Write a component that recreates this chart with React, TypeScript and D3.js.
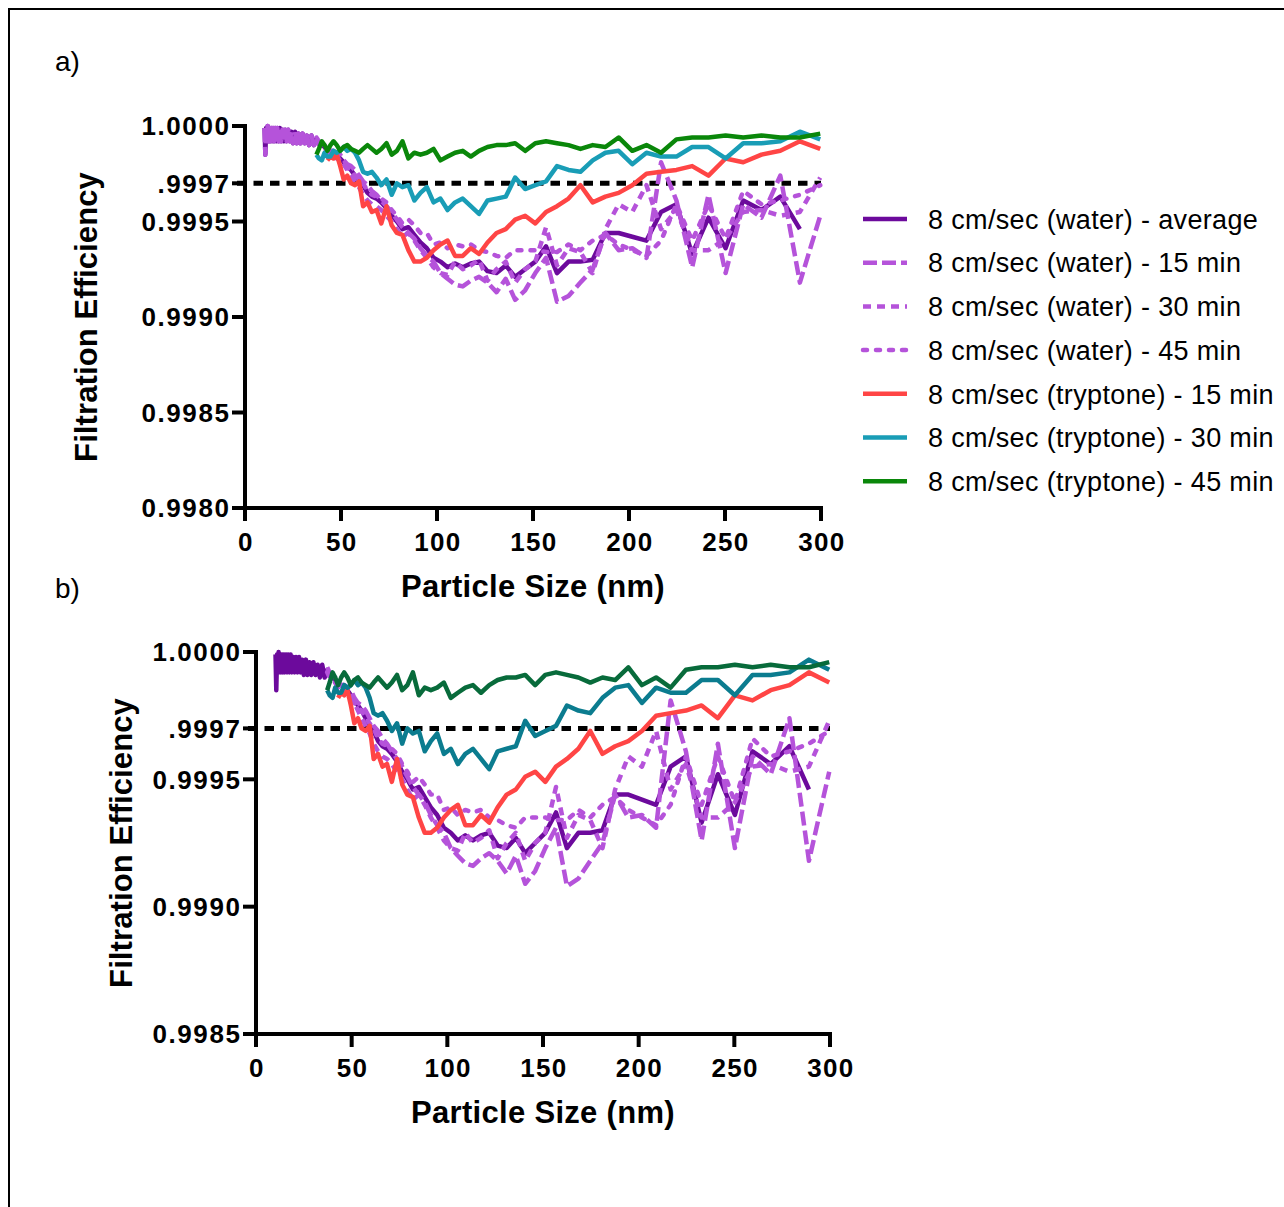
import React from "react";
import * as d3 from "d3";

if (typeof document !== "undefined") {
  document.body.style.margin = "0";
  document.body.style.overflow = "hidden";
}

const FONT = "'Liberation Sans', Arial, Helvetica, sans-serif";

// particle size channels (nm)
const sizeNm = [37.2, 38.5, 40.0, 41.4, 42.9, 44.5, 46.1, 47.8, 49.6, 51.4, 53.3, 55.2, 57.3, 59.4, 61.5, 63.8, 66.1, 68.5, 71.0, 73.7, 76.4, 79.1, 82.0, 85.1, 88.2, 91.4, 94.7, 98.2, 101.8, 105.5, 109.4, 113.4, 117.6, 121.9, 126.3, 131.0, 135.8, 140.7, 145.9, 151.2, 156.8, 162.5, 168.5, 174.7, 181.1, 187.7, 194.6, 201.7, 209.1, 216.7, 224.7, 232.9, 241.4, 250.3, 259.5, 269.0, 278.8, 289.0, 299.6];

// small-size channels (nano range, water runs)
const lowSizeNm = [10.2, 10.6, 11.0, 11.3, 11.8, 12.2, 12.6, 13.1, 13.6, 14.1, 14.6, 15.1, 15.7, 16.3, 16.8, 17.5, 18.1, 18.8, 19.5, 20.2, 20.9, 21.7, 22.5, 23.3, 24.1, 25.0, 26.1, 26.9, 27.9, 28.9, 30.0, 31.1, 32.2, 33.4, 34.6, 35.9];
const lowWater = [0.99999, 0.99985, 0.99999, 0.99992, 1.00000, 0.99992, 0.99999, 0.99992, 0.99999, 0.99992, 0.99999, 0.99992, 0.99999, 0.99992, 0.99999, 0.99992, 0.99999, 0.99992, 0.99998, 0.99992, 0.99998, 0.99992, 0.99998, 0.99992, 0.99997, 0.99991, 0.99997, 0.99991, 0.99996, 0.99991, 0.99996, 0.99991, 0.99995, 0.99990, 0.99995, 0.99990];

const waterAvg = [0.99993, 0.99991, 0.99990, 0.99989, 0.99987, 0.99987, 0.99986, 0.99985, 0.99983, 0.99981,
  0.99979, 0.99977, 0.99974, 0.99971, 0.99969, 0.99965, 0.99963, 0.99962, 0.99960, 0.99957,
  0.99953, 0.99950, 0.99946, 0.99947, 0.99943, 0.99939, 0.99936, 0.99931, 0.99929, 0.99926,
  0.99928, 0.99926, 0.99928, 0.99929, 0.99924, 0.99923, 0.99927, 0.99921, 0.99925, 0.99929,
  0.99937, 0.99923, 0.99929, 0.99929, 0.99930, 0.99944, 0.99944, 0.99942, 0.99940, 0.99955,
  0.99959, 0.99933, 0.99952, 0.99936, 0.99961, 0.99956, 0.99963, 0.99946];

const water15 = [0.99994, 0.99992, 0.99991, 0.99990, 0.99988, 0.99987, 0.99987, 0.99986, 0.99985, 0.99982,
  0.99980, 0.99979, 0.99977, 0.99974, 0.99971, 0.99969, 0.99966, 0.99964, 0.99961, 0.99958,
  0.99955, 0.99951, 0.99947, 0.99944, 0.99941, 0.99936, 0.99932, 0.99929, 0.99923, 0.99920,
  0.99917, 0.99916, 0.99919, 0.99921, 0.99918, 0.99913, 0.99920, 0.99909, 0.99914, 0.99923,
  0.99931, 0.99908, 0.99911, 0.99918, 0.99925, 0.99944, 0.99935, 0.99936, 0.99931, 0.99981,
  0.99961, 0.99926, 0.99964, 0.99923, 0.99959, 0.99952, 0.99974, 0.99918, 0.99953];

const water30 = [0.99993, 0.99991, 0.99990, 0.99988, 0.99986, 0.99988, 0.99985, 0.99983, 0.99982, 0.99980,
  0.99977, 0.99974, 0.99971, 0.99968, 0.99964, 0.99961, 0.99959, 0.99958, 0.99956, 0.99953,
  0.99950, 0.99946, 0.99942, 0.99944, 0.99940, 0.99935, 0.99931, 0.99926, 0.99923, 0.99922,
  0.99929, 0.99925, 0.99927, 0.99930, 0.99919, 0.99925, 0.99929, 0.99918, 0.99925, 0.99929,
  0.99947, 0.99927, 0.99936, 0.99934, 0.99923, 0.99946, 0.99959, 0.99955, 0.99969, 0.99946,
  0.99956, 0.99935, 0.99935, 0.99941, 0.99955, 0.99956, 0.99953, 0.99955, 0.99973];

const water45 = [0.99992, 0.99990, 0.99989, 0.99988, 0.99987, 0.99986, 0.99986, 0.99984, 0.99982, 0.99980,
  0.99978, 0.99977, 0.99974, 0.99972, 0.99970, 0.99966, 0.99964, 0.99963, 0.99962, 0.99960,
  0.99956, 0.99953, 0.99949, 0.99951, 0.99948, 0.99944, 0.99944, 0.99938, 0.99939, 0.99936,
  0.99938, 0.99937, 0.99938, 0.99935, 0.99934, 0.99932, 0.99931, 0.99935, 0.99935, 0.99935,
  0.99934, 0.99934, 0.99938, 0.99935, 0.99940, 0.99943, 0.99938, 0.99935, 0.99932, 0.99940,
  0.99959, 0.99940, 0.99959, 0.99941, 0.99966, 0.99959, 0.99961, 0.99964, 0.99969];

const tryptone15 = [null, null, null, null, 0.99982, 0.99984, 0.99983, 0.99985, 0.99979, 0.99972,
  0.99974, 0.99970, 0.99969, 0.99971, 0.99958, 0.99960, 0.99955, 0.99956, 0.99949, 0.99958,
  0.99948, 0.99944, 0.99943, 0.99935, 0.99929, 0.99929, 0.99931, 0.99935, 0.99938, 0.99940,
  0.99932, 0.99932, 0.99936, 0.99933, 0.99939, 0.99944, 0.99946, 0.99951, 0.99953, 0.99949,
  0.99955, 0.99958, 0.99962, 0.99969, 0.99960, 0.99963, 0.99965, 0.99969, 0.99975, 0.99976,
  0.99977, 0.99979, 0.99974, 0.99983, 0.99981, 0.99985, 0.99987, 0.99992, 0.99988];

const tryptone30 = [0.99985, 0.99983, 0.99982, 0.99986, 0.99984, 0.99984, 0.99987, 0.99986, 0.99987, 0.99989,
  0.99987, 0.99988, 0.99986, 0.99982, 0.99976, 0.99975, 0.99976, 0.99973, 0.99969, 0.99972,
  0.99964, 0.99970, 0.99968, 0.99969, 0.99961, 0.99965, 0.99968, 0.99960, 0.99962, 0.99956,
  0.99960, 0.99962, 0.99958, 0.99954, 0.99961, 0.99962, 0.99963, 0.99973, 0.99967, 0.99969,
  0.99971, 0.99979, 0.99977, 0.99976, 0.99982, 0.99986, 0.99987, 0.99980, 0.99986, 0.99984,
  0.99984, 0.99989, 0.99989, 0.99983, 0.99991, 0.99991, 0.99992, 0.99997, 0.99993];

const tryptone45 = [0.99985, 0.99988, 0.99992, 0.99990, 0.99987, 0.99990, 0.99992, 0.99990, 0.99987, 0.99989,
  0.99990, 0.99988, 0.99987, 0.99986, 0.99988, 0.99990, 0.99988, 0.99986, 0.99988, 0.99991,
  0.99985, 0.99987, 0.99992, 0.99983, 0.99986, 0.99985, 0.99986, 0.99988, 0.99982, 0.99984,
  0.99986, 0.99987, 0.99984, 0.99987, 0.99989, 0.99990, 0.99990, 0.99991, 0.99987, 0.99991,
  0.99992, 0.99991, 0.99990, 0.99988, 0.99990, 0.99989, 0.99994, 0.99987, 0.99990, 0.99986,
  0.99993, 0.99994, 0.99994, 0.99995, 0.99994, 0.99995, 0.99994, 0.99994, 0.99996];

const seriesNames = [
  "8 cm/sec (water) - average",
  "8 cm/sec (water) - 15 min",
  "8 cm/sec (water) - 30 min",
  "8 cm/sec (water) - 45 min",
  "8 cm/sec (tryptone) - 15 min",
  "8 cm/sec (tryptone) - 30 min",
  "8 cm/sec (tryptone) - 45 min",
];

const xTicks = [0, 50, 100, 150, 200, 250, 300];
const thresholdValue = 0.9997;
const yTicksA = [1.0, 0.9997, 0.9995, 0.999, 0.9985, 0.998];
const yTickLabelsA = ["1.0000", ".9997", "0.9995", "0.9990", "0.9985", "0.9980"];
const yTicksB = [1.0, 0.9997, 0.9995, 0.999, 0.9985];
const yTickLabelsB = ["1.0000", ".9997", "0.9995", "0.9990", "0.9985"];

const C_AVG = "#6C0A9C";
const C_LIGHT = "#B553DA";
const C_RED = "#FF4545";

const styles = [
  { color: C_AVG, dash: "", cap: "butt" },
  { color: C_LIGHT, dash: "14,5", cap: "butt" },
  { color: C_LIGHT, dash: "8,6", cap: "butt" },
  { color: C_LIGHT, dash: "4,9", cap: "round" },
  { color: C_RED, dash: "", cap: "butt" },
  { color: "#199DB6", dash: "", cap: "butt" },
  { color: "#0A870A", dash: "", cap: "butt" },
];

type PanelDef = {
  tag: string; tagY: number;
  x0: number; x1: number; yTop: number; yBot: number; yMin: number;
  yTicks: number[]; yLabels: string[];
  yTitleX: number; xTitleY: number; xLabelY: number;
  teal: string; green: string; lowOn15: boolean;
};

const panels: PanelDef[] = [
  { tag: "a)", tagY: 71, x0: 245, x1: 821, yTop: 126, yBot: 508, yMin: 0.998,
    yTicks: yTicksA, yLabels: yTickLabelsA, yTitleX: 86, xTitleY: 597, xLabelY: 551,
    teal: "#199DB6", green: "#0A870A", lowOn15: true },
  { tag: "b)", tagY: 598, x0: 256, x1: 830, yTop: 652, yBot: 1034, yMin: 0.9985,
    yTicks: yTicksB, yLabels: yTickLabelsB, yTitleX: 121, xTitleY: 1123, xLabelY: 1077,
    teal: "#0B7C8F", green: "#086B3B", lowOn15: false },
];

function Panel({ p }: { p: PanelDef }) {
  const x = d3.scaleLinear().domain([0, 300]).range([p.x0, p.x1]);
  const y = d3.scaleLinear().domain([p.yMin, 1]).range([p.yBot, p.yTop]);
  const line = d3
    .line<[number, number | null]>()
    .defined((d) => d[1] != null)
    .x((d) => x(d[0]))
    .y((d) => y(d[1] as number));

  const zip = (xs: number[], ys: (number | null)[]) =>
    ys.map((v, i) => [xs[i], v] as [number, number | null]);

  const seriesData = [
    zip(lowSizeNm.concat(sizeNm), (lowWater as (number | null)[]).concat(waterAvg)),
    p.lowOn15 ? zip(lowSizeNm.concat(sizeNm), (lowWater as (number | null)[]).concat(water15)) : zip(sizeNm, water15),
    zip(sizeNm, water30),
    zip(sizeNm, water45),
    zip(sizeNm, tryptone15),
    zip(sizeNm, tryptone30),
    zip(sizeNm, tryptone45),
  ];
  const colors = [C_AVG, C_LIGHT, C_LIGHT, C_LIGHT, C_RED, p.teal, p.green];

  const cy = (p.yTop + p.yBot) / 2;
  return (
    <g>
      <text x={55} y={p.tagY} fontFamily={FONT} fontSize={28}>{p.tag}</text>
      {/* threshold */}
      <line x1={p.x0 - 8} x2={p.x1} y1={y(thresholdValue)} y2={y(thresholdValue)}
        stroke="#000" strokeWidth={5} strokeDasharray="9.5,7" />
      {seriesData.map((d, i) => (
        <path key={i} d={line(d) || ""} fill="none" stroke={colors[i]}
          strokeWidth={4.5} strokeDasharray={styles[i].dash || undefined}
          strokeLinecap={styles[i].cap as any} strokeLinejoin="round" />
      ))}
      {/* axes */}
      <line x1={p.x0} x2={p.x0} y1={p.yTop - 2} y2={p.yBot + 2} stroke="#000" strokeWidth={4} />
      <line x1={p.x0 - 2} x2={p.x1 + 2} y1={p.yBot} y2={p.yBot} stroke="#000" strokeWidth={4} />
      {p.yTicks.map((t, i) => (
        <g key={"y" + i}>
          <line x1={p.x0 - 13} x2={p.x0} y1={y(t)} y2={y(t)} stroke="#000" strokeWidth={4} />
          <text x={p.x0 - 14.5} y={y(t)} dy="0.36em" textAnchor="end" fontFamily={FONT}
            fontWeight="bold" fontSize={26} letterSpacing={1.6}>{p.yLabels[i]}</text>
        </g>
      ))}
      {xTicks.map((t) => (
        <g key={"x" + t}>
          <line x1={x(t)} x2={x(t)} y1={p.yBot} y2={p.yBot + 13} stroke="#000" strokeWidth={4} />
          <text x={x(t) + 0.8} y={p.xLabelY} textAnchor="middle" fontFamily={FONT}
            fontWeight="bold" fontSize={26} letterSpacing={1.3}>{t}</text>
        </g>
      ))}
      <text transform={`translate(${p.yTitleX},${cy}) rotate(-90)`} dy="0.36em" textAnchor="middle"
        fontFamily={FONT} fontWeight="bold" fontSize={31} letterSpacing={0.1}>Filtration Efficiency</text>
      <text x={(p.x0 + p.x1) / 2} y={p.xTitleY} textAnchor="middle" fontFamily={FONT}
        fontWeight="bold" fontSize={31} letterSpacing={0.3}>Particle Size (nm)</text>
    </g>
  );
}

function Legend() {
  return (
    <g>
      {seriesNames.map((name, i) => {
        const yy = 219 + i * 43.7;
        return (
          <g key={i}>
            <line x1={863} x2={907} y1={yy} y2={yy} stroke={styles[i].color} strokeWidth={4.5}
              strokeDasharray={styles[i].dash || undefined} strokeLinecap={styles[i].cap as any} />
            <text x={928} y={yy} dy="0.36em" fontFamily={FONT} fontSize={27} letterSpacing={0.35}>{name}</text>
          </g>
        );
      })}
    </g>
  );
}

export default function App() {
  return (
    <svg width={1284} height={1207} style={{ display: "block", background: "#fff" }}>
      <rect x={0} y={0} width={1284} height={1207} fill="#fff" />
      <line x1={8} x2={1284} y1={9} y2={9} stroke="#000" strokeWidth={2} />
      <line x1={9} x2={9} y1={8} y2={1207} stroke="#000" strokeWidth={2} />
      {panels.map((p, i) => <Panel key={i} p={p} />)}
      <Legend />
    </svg>
  );
}
